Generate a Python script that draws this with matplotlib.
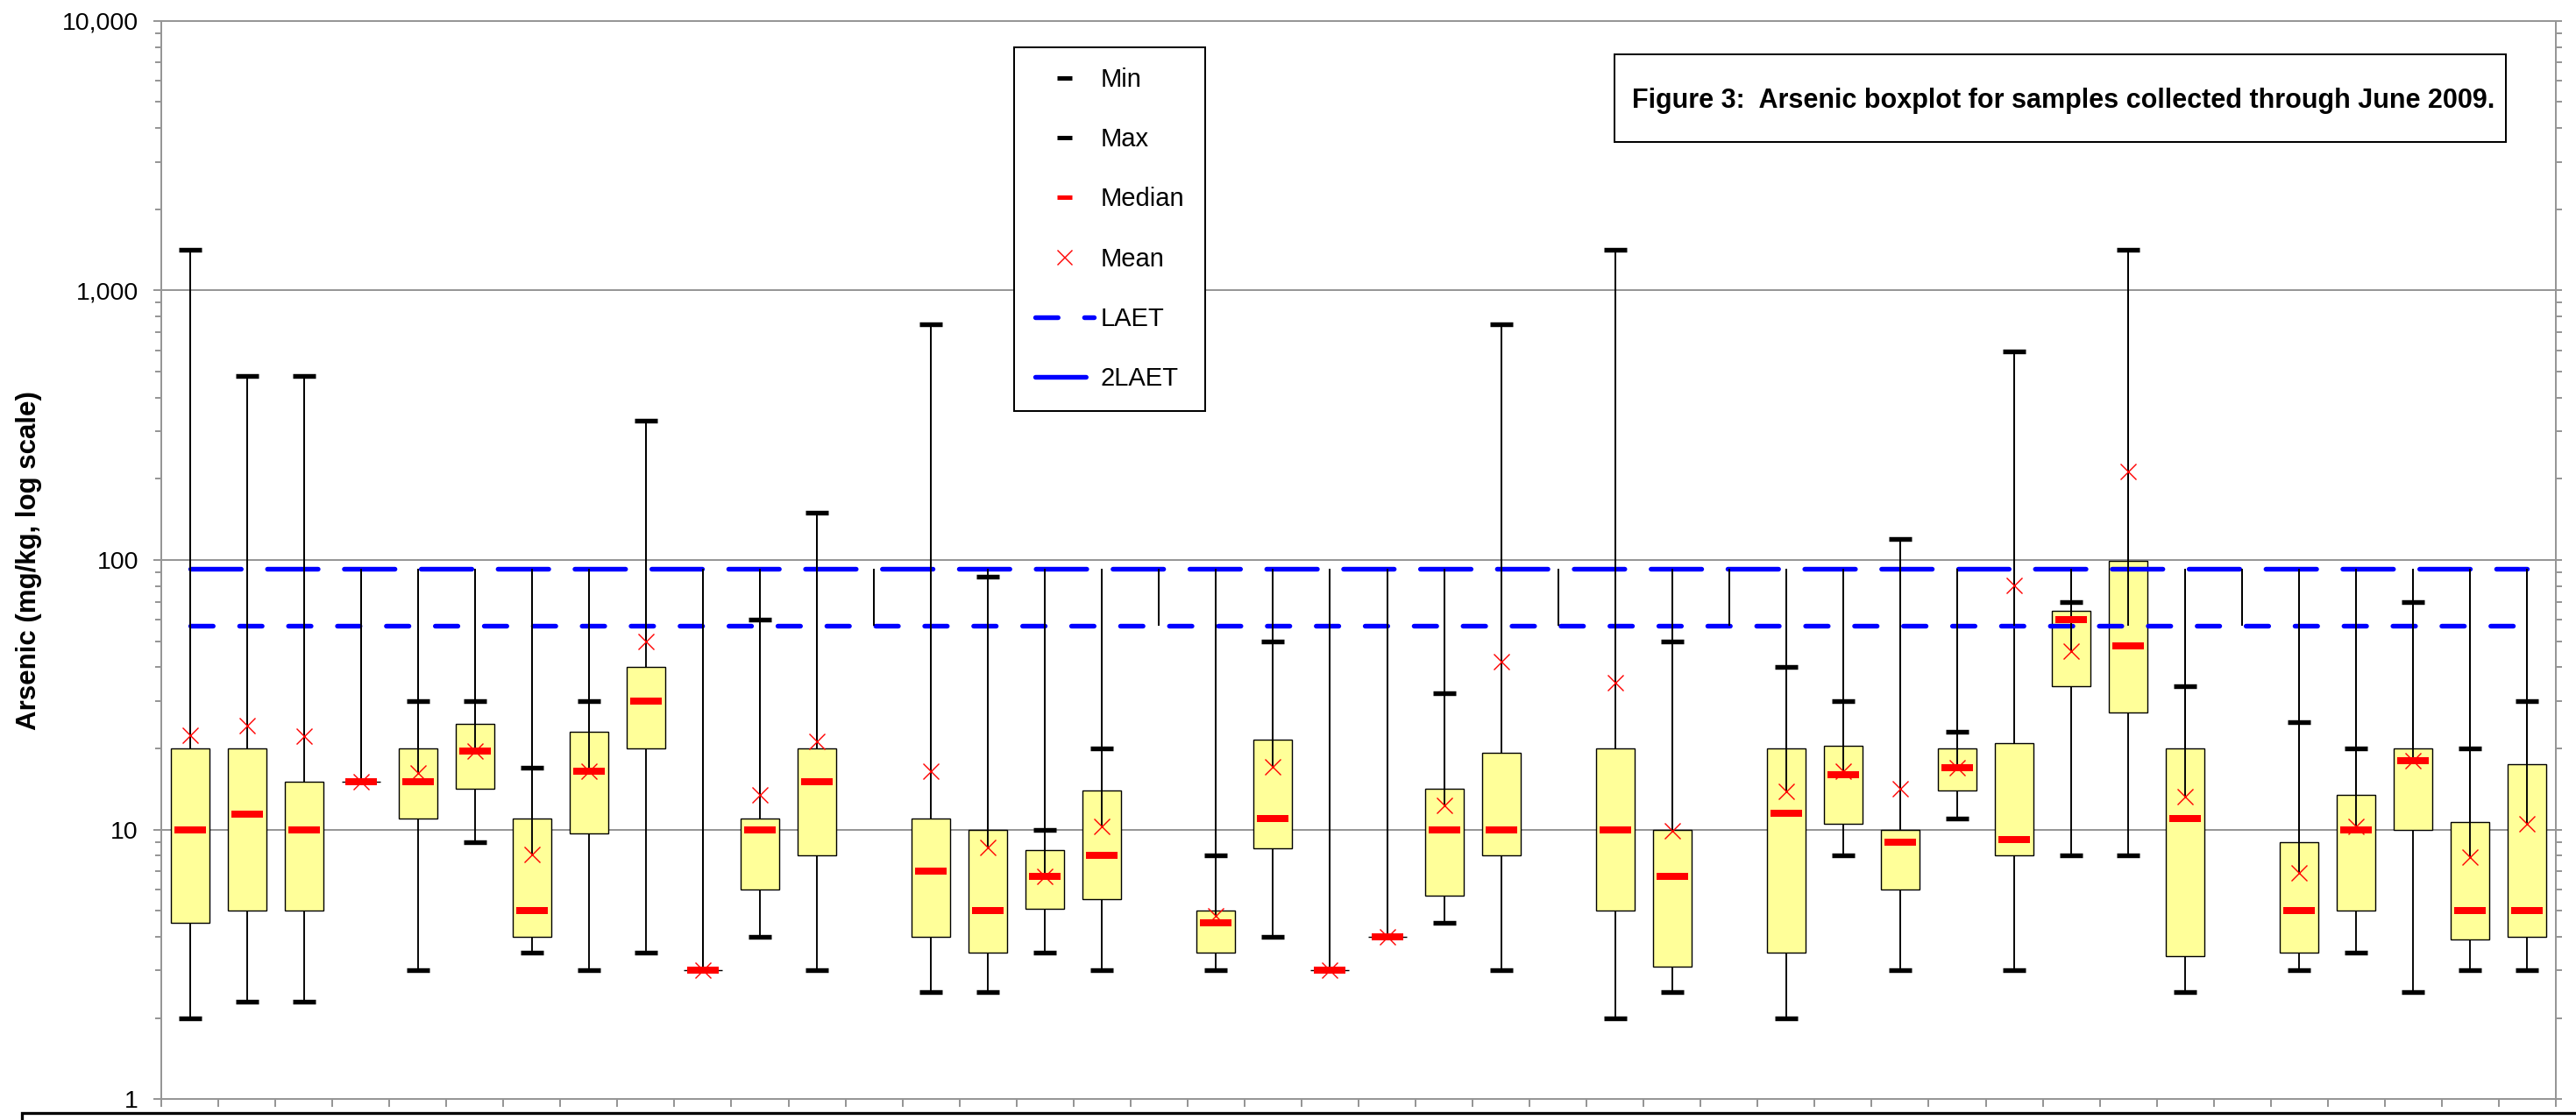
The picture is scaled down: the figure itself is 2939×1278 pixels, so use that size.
import numpy as np
import matplotlib
matplotlib.use("Agg")
import matplotlib.pyplot as plt
from matplotlib.lines import Line2D
from matplotlib.patches import Rectangle
from matplotlib.ticker import LogLocator, NullFormatter, FuncFormatter

plt.rcParams['font.family'] = ['Liberation Sans', 'DejaVu Sans']

nan = np.nan

# Arsenic summary statistics per sampling location (mg/kg); NaN = no samples
minimum = [2.0, 2.3, 2.3, 15, 3.0, 9.0, 3.5, 3.0, 3.5, 3, 4.0, 3.0, nan, 2.5,
           2.5, 3.5, 3.0, nan, 3.0, 4.0, 3, 4, 4.5, 3.0, nan, 2.0, 2.5, nan,
           2.0, 8.0, 3.0, 11, 3.0, 8.0, 8.0, 2.5, nan, 3.0, 3.5, 2.5, 3.0, 3.0]
q1 = [4.5, 5.0, 5.0, 15, 11, 14.2, 4.0, 9.7, 20, 3, 6.0, 8.0, nan, 4.0,
      3.5, 5.1, 5.5, nan, 3.5, 8.5, 3, 4, 5.7, 8.0, nan, 5.0, 3.1, nan,
      3.5, 10.5, 6.0, 14, 8.0, 34, 27.2, 3.4, nan, 3.5, 5.0, 10, 3.9, 4.0]
median = [10, 11.4, 10, 15, 15, 19.5, 5.0, 16.5, 30, 3, 10, 15, nan, 7.0,
          5.0, 6.7, 8.0, nan, 4.5, 11, 3, 4, 10, 10, nan, 10, 6.7, nan,
          11.5, 16, 9.0, 17, 9.2, 60, 48, 11, nan, 5.0, 10, 18, 5.0, 5.0]
q3 = [20, 20, 15, 15, 20, 24.6, 11, 23.1, 40, 3, 11, 20, nan, 11,
      10, 8.4, 14, nan, 5.0, 21.6, 3, 4, 14.2, 19.2, nan, 20, 10, nan,
      20, 20.4, 10, 20, 20.9, 65, 99, 20, nan, 9.0, 13.5, 20, 10.7, 17.5]
maximum = [1420, 480, 480, 15, 30, 30, 17, 30, 330, 3, 60, 150, nan, 750,
           87, 10, 20, nan, 8.0, 50, 3, 4, 32, 750, nan, 1420, 50, nan,
           40, 30, 120, 23, 594, 70, 1420, 34, nan, 25, 20, 70, 20, 30]
mean = [22.4, 24.3, 22.2, 15, 16.2, 19.5, 8.1, 16.5, 50, 3, 13.5, 21.2, nan, 16.5,
        8.6, 6.7, 10.3, nan, 4.8, 17.1, 3, 4, 12.3, 42, nan, 35, 9.9, nan,
        13.9, 16.5, 14.2, 17, 80.5, 45.9, 213, 13.3, nan, 6.9, 10.3, 18, 7.9, 10.5]

LAET = 57      # lowest apparent effects threshold
LAET2 = 93     # second lowest apparent effects threshold

W, H, DPI = 2939, 1278, 100


def pt(px):
    return px * 72.0 / DPI


GREY = '#969696'

minimum, q1, median, q3, maximum, mean = (np.array(a, dtype=float) for a in
                                          (minimum, q1, median, q3, maximum, mean))
n = len(median)
x = np.arange(n)
has = ~np.isnan(median)

fig = plt.figure(figsize=(W / DPI, H / DPI), dpi=DPI)
ax = fig.add_axes([184 / W, 1 - 1254.2 / H, 2732 / W, 1230.4 / H])
ax.set_yscale('log')
ax.set_ylim(1, 10000)
ax.set_xlim(-0.5, n - 0.5)

# high-low range behind the boxes: lowest to highest of all series
lo_all = np.fmin(minimum, LAET)
hi_all = np.fmax(maximum, LAET2)
ax.vlines(x, lo_all, hi_all, color='black', lw=pt(1.9), zorder=1)

# interquartile boxes
ax.bar(x[has], (q3 - q1)[has], bottom=q1[has], width=0.677,
       color='#FFFF99', edgecolor='black', linewidth=pt(1.4), zorder=2)

# threshold lines
l_laet, = ax.plot(x, np.full(n, LAET), color='#0000FF', lw=pt(5.4),
                  dashes=(4.77, 5.57), dash_capstyle='round', zorder=3)
l_laet2, = ax.plot(x, np.full(n, LAET2), color='#0000FF', lw=pt(5.4),
                   dashes=(10.7, 5.54), dash_capstyle='round', zorder=3)

# high-low range of the overlay series, drawn over the boxes
lo_top = np.fmin(np.fmin(mean, LAET), maximum)
ax.vlines(x, lo_top, hi_all, color='black', lw=pt(1.9), zorder=4)

# min / max caps, medians and means
ax.plot(x, minimum, ls='none', marker='_', ms=pt(25.4), mew=pt(5.4), color='black', zorder=5)
ax.plot(x, maximum, ls='none', marker='_', ms=pt(25.4), mew=pt(5.4), color='black', zorder=5)
ax.plot(x, median, ls='none', marker='_', ms=pt(36), mew=pt(8), color='#FF0000', zorder=6)
ax.plot(x, mean, ls='none', marker='x', ms=pt(18), mew=pt(1.4), color='#FF0000', zorder=7)

# axes styling
for sp in ax.spines.values():
    sp.set_color(GREY)
    sp.set_linewidth(pt(2))
ax.yaxis.set_major_locator(LogLocator(base=10))
ax.yaxis.set_minor_locator(LogLocator(base=10, subs=np.arange(2, 10)))
ax.yaxis.set_major_formatter(FuncFormatter(lambda v, _: f"{v:,.0f}"))
ax.yaxis.set_minor_formatter(NullFormatter())
ax.tick_params(axis='y', which='major', direction='out', length=pt(9), width=pt(2),
               color=GREY, labelsize=20.5, pad=pt(17))
ax.tick_params(axis='y', which='minor', direction='out', length=pt(7), width=pt(2), color=GREY)
ax.set_xticks(np.arange(-0.5, n, 1.0))
ax.tick_params(axis='x', which='major', direction='out', length=pt(9), width=pt(2),
               color=GREY, labelbottom=False)
ax.yaxis.grid(True, which='major', color=GREY, lw=pt(2))
ax.set_axisbelow(True)

ax.set_ylabel('Arsenic (mg/kg, log scale)', fontsize=22.5, fontweight='bold')
ax.yaxis.set_label_coords(-(184 - 48) / 2732, (1254.2 - 640) / 1230.4)

# secondary (unlabelled) log axis on the right
ax2 = ax.twinx()
ax2.set_yscale('log')
ax2.set_ylim(1, 10000)
ax2.yaxis.set_major_locator(LogLocator(base=10))
ax2.yaxis.set_minor_locator(LogLocator(base=10, subs=np.arange(2, 10)))
ax2.yaxis.set_major_formatter(NullFormatter())
ax2.yaxis.set_minor_formatter(NullFormatter())
ax2.tick_params(axis='y', which='both', direction='out', length=pt(7), width=pt(2), color=GREY)
for sp in ax2.spines.values():
    sp.set_color(GREY)
    sp.set_linewidth(pt(2))

# legend
handles = [
    Line2D([], [], ls='none', marker='_', ms=pt(17), mew=pt(5), color='black'),
    Line2D([], [], ls='none', marker='_', ms=pt(17), mew=pt(5), color='black'),
    Line2D([], [], ls='none', marker='_', ms=pt(17), mew=pt(5), color='#FF0000'),
    Line2D([], [], ls='none', marker='x', ms=pt(17), mew=pt(1.4), color='#FF0000'),
    l_laet,
    l_laet2,
]
labels = ['Min', 'Max', 'Median', 'Mean', 'LAET', '2LAET']
leg = ax2.legend(handles, labels, loc='center',
                 bbox_to_anchor=(1266 / W, 1 - 261.5 / H), bbox_transform=fig.transFigure,
                 fontsize=21, frameon=True, fancybox=False, shadow=False, framealpha=1,
                 edgecolor='black', borderpad=0.8, labelspacing=1.38,
                 handlelength=2.3, handletextpad=0.28, borderaxespad=0)
leg.get_frame().set_linewidth(pt(2))

# figure caption box
fig.add_artist(Rectangle((1842 / W, 1 - 162 / H), 1017 / W, 100 / H,
                         transform=fig.transFigure, fill=True, facecolor='white',
                         edgecolor='black', lw=pt(2)))
fig.text(1862 / W, 1 - 123.3 / H,
         'Figure 3:  Arsenic boxplot for samples collected through June 2009.',
         fontsize=22, fontweight='bold', ha='left', va='baseline')

# frame below the plot
fig.add_artist(Rectangle((25 / W, -0.05), 1.0, 0.05 + 8 / H,
                         transform=fig.transFigure, fill=False,
                         edgecolor='black', lw=pt(3.3), clip_on=False))

fig.savefig('out.png', dpi=DPI)
